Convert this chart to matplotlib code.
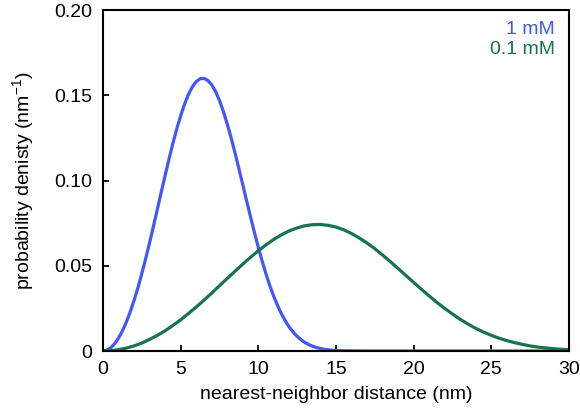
import matplotlib
matplotlib.use("Agg")
import matplotlib.pyplot as plt

# nearest-neighbor distance distributions read at two concentrations
r_1mM = [0, 0.25, 0.5, 0.75, 1, 1.25, 1.5, 1.75, 2, 2.25, 2.5, 2.75, 3, 3.25, 3.5, 3.75,
         4, 4.25, 4.5, 4.75, 5, 5.25, 5.5, 5.75, 6, 6.25, 6.5, 6.75, 7, 7.25, 7.5, 7.75,
         8, 8.25, 8.5, 8.75, 9, 9.25, 9.5, 9.75, 10, 10.25, 10.5, 10.75, 11, 11.25,
         11.5, 11.75, 12, 12.25, 12.5, 12.75, 13, 13.25, 13.5, 13.75, 14, 14.25, 14.5,
         15, 15.5, 16, 17, 20, 25, 30]
p_1mM = [0, 0.0005, 0.0019, 0.0043, 0.0076, 0.0118, 0.0169, 0.0229, 0.0297, 0.0372,
         0.0455, 0.0543, 0.0636, 0.0733, 0.0832, 0.0932, 0.1030, 0.1126, 0.1218,
         0.1303, 0.1380, 0.1448, 0.1505, 0.1549, 0.1580, 0.1597, 0.1599, 0.1587,
         0.1561, 0.1521, 0.1469, 0.1405, 0.1331, 0.1250, 0.1162, 0.1069, 0.0975,
         0.0879, 0.0786, 0.0695, 0.0607, 0.0526, 0.0450, 0.0381, 0.0319, 0.0264,
         0.0216, 0.0175, 0.0139, 0.0110, 0.0086, 0.0066, 0.0050, 0.0038, 0.0028,
         0.0020, 0.0015, 0.0010, 0.0007, 0.0003, 0.00015, 0.0001, 0, 0, 0, 0]

r_01mM = [i * 0.5 for i in range(61)]
p_01mM = [0, 0.0002, 0.0008, 0.0017, 0.0030, 0.0047, 0.0068, 0.0092, 0.0119, 0.0150,
          0.0183, 0.0220, 0.0258, 0.0298, 0.0340, 0.0383, 0.0426, 0.0468, 0.0510,
          0.0550, 0.0588, 0.0623, 0.0655, 0.0682, 0.0705, 0.0722, 0.0735, 0.0741,
          0.0742, 0.0737, 0.0727, 0.0711, 0.0689, 0.0663, 0.0633, 0.0600, 0.0563,
          0.0524, 0.0484, 0.0443, 0.0402, 0.0362, 0.0323, 0.0285, 0.0250, 0.0217,
          0.0186, 0.0158, 0.0133, 0.0111, 0.0092, 0.0075, 0.0061, 0.0049, 0.0039,
          0.0030, 0.0023, 0.0018, 0.0014, 0.0010, 0.0008]

blue = "#4257f5"
green = "#17734f"

plt.rcParams["font.family"] = ["Liberation Sans", "DejaVu Sans"]
plt.rcParams["mathtext.default"] = "regular"

fig = plt.figure(figsize=(5.8, 4.12), dpi=100)
ax = fig.add_axes([0.1776, 0.148, 0.8034, 0.8277])

ax.plot(r_1mM, p_1mM, color=blue, lw=2.3, solid_joinstyle="round")
ax.plot(r_01mM, p_01mM, color=green, lw=2.3, solid_joinstyle="round")

ax.set_xlim(0, 30)
ax.set_ylim(0, 0.20)
ax.set_xticks([0, 5, 10, 15, 20, 25, 30])
ax.set_yticks([0, 0.05, 0.10, 0.15, 0.20])
ax.set_yticklabels(["0", "0.05", "0.10", "0.15", "0.20"])
ax.tick_params(direction="in", length=4, width=1.3, labelsize=14,
               top=False, right=False)
ax.tick_params(axis="x", pad=7)
ax.tick_params(axis="y", pad=8)
for s in ax.spines.values():
    s.set_linewidth(1.5)

ax.set_xlabel("nearest-neighbor distance (nm)", fontsize=14, labelpad=6)
ax.set_ylabel("probability denisty (nm$^{-1}$)", fontsize=14, labelpad=13)

ax.text(0.97, 0.944, "1 mM", color=blue, fontsize=14, ha="right", va="center",
        transform=ax.transAxes)
ax.text(0.97, 0.883, "0.1 mM", color=green, fontsize=14, ha="right", va="center",
        transform=ax.transAxes)

fig.savefig("out.png", dpi=100)
